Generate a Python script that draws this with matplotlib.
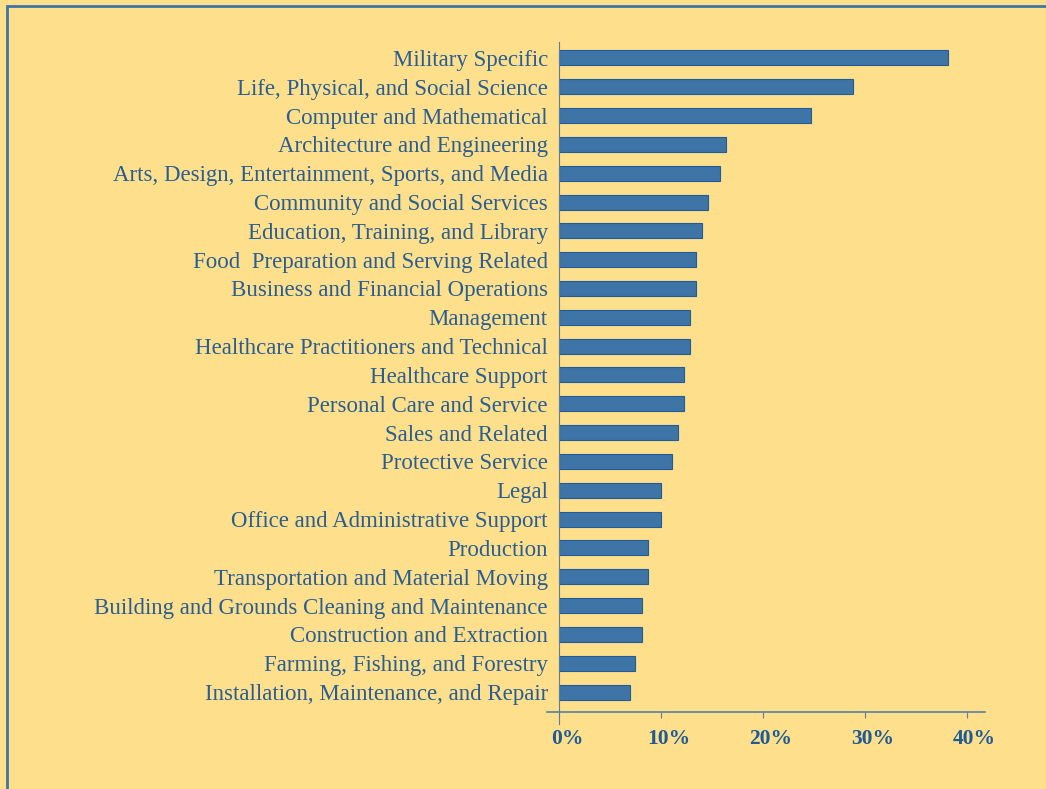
import matplotlib
matplotlib.use("Agg")
import matplotlib.pyplot as plt
from matplotlib.patches import Rectangle
from matplotlib.ticker import FuncFormatter
from matplotlib.transforms import ScaledTranslation

categories = [
    "Military Specific",
    "Life, Physical, and Social Science",
    "Computer and Mathematical",
    "Architecture and Engineering",
    "Arts, Design, Entertainment, Sports, and Media",
    "Community and Social Services",
    "Education, Training, and Library",
    "Food  Preparation and Serving Related",
    "Business and Financial Operations",
    "Management",
    "Healthcare Practitioners and Technical",
    "Healthcare Support",
    "Personal Care and Service",
    "Sales and Related",
    "Protective Service",
    "Legal",
    "Office and Administrative Support",
    "Production",
    "Transportation and Material Moving",
    "Building and Grounds Cleaning and Maintenance",
    "Construction and Extraction",
    "Farming, Fishing, and Forestry",
    "Installation, Maintenance, and Repair",
]
values = [38.2, 28.8, 24.7, 16.4, 15.8, 14.6, 14.0, 13.4, 13.4, 12.9, 12.9,
          12.3, 12.3, 11.7, 11.1, 10.0, 10.0, 8.7, 8.7, 8.1, 8.1, 7.5, 7.0]
xticks = [0, 10, 20, 30, 40]

bg = "#FEDF8C"
blue = "#3F74A7"
txt = "#2A5E93"

plt.rcParams["font.family"] = ["Liberation Serif", "DejaVu Serif"]

W, H = 1046, 789
fig = plt.figure(figsize=(W / 100, H / 100), dpi=100, facecolor=bg)
# thin blue frame at left / top edges
fig.patches.append(Rectangle((7 / W, -0.1), 2, 1.1 - 6 / H, transform=fig.transFigure,
                             fill=False, edgecolor=blue, lw=2, zorder=0))

ax = fig.add_axes([547 / W, 77 / H, (985 - 547) / W, (747 - 77) / H])
ax.set_facecolor(bg)
pos = list(range(len(categories)))
ax.barh(pos, values, height=0.52, color=blue, edgecolor="#1F5C99", lw=0.8)
ax.set_ylim(len(categories) - 1 + 0.69, -0.55)
ax.set_xlim(-1.18, 41.8)

ax.set_yticks(pos)
ax.set_yticklabels(categories)
ax.set_xticks(xticks)
ax.xaxis.set_major_formatter(FuncFormatter(lambda v, p: f"{v:.0f}%"))
ax.tick_params(axis="y", length=0, pad=8, labelsize=16.5, labelcolor=txt)
ax.tick_params(axis="x", length=4, color="#5A7F9F", pad=8, labelsize=15.5,
               labelcolor="#1F5A94")
shift = ScaledTranslation(8 / 100, 0, fig.dpi_scale_trans)
for lab in ax.get_xticklabels():
    lab.set_fontweight("bold")
    lab.set_transform(lab.get_transform() + shift)

for s in ["top", "right"]:
    ax.spines[s].set_visible(False)
ax.spines["left"].set_position(("data", 0))
ax.spines["left"].set_bounds(len(categories) - 1 + 1.1, -0.55)
ax.spines["left"].set_color("#5A7F9F")
ax.spines["bottom"].set_color("#5A7F9F")
ax.spines["bottom"].set_linewidth(1.2)

fig.savefig("out.png", dpi=100, facecolor=bg)
